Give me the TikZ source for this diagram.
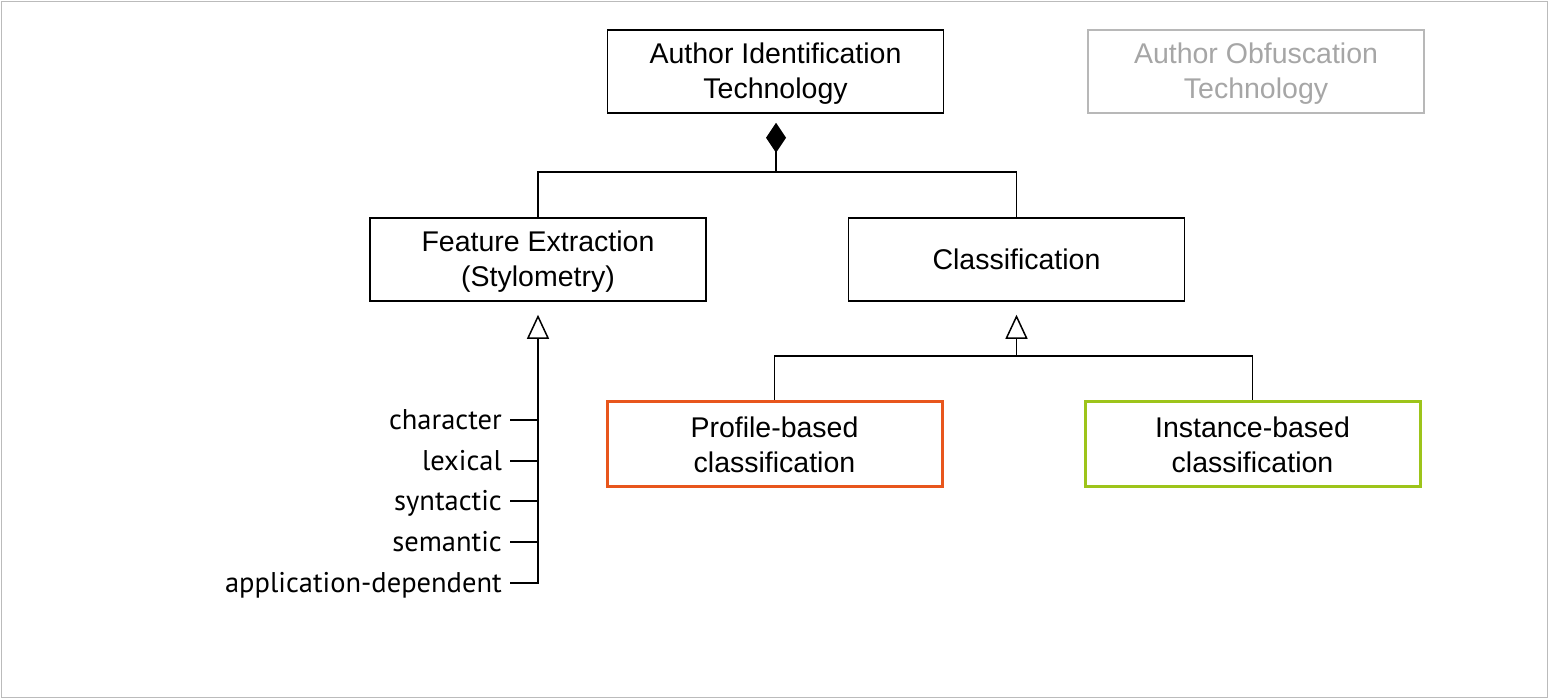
\documentclass[tikz,border=0pt]{standalone}
\usepackage{fontspec}
\setmainfont{Liberation Sans}
\newfontfamily\labelfont{PT Sans}
\usetikzlibrary{arrows.meta}
\definecolor{frameGray}{HTML}{BBBBBB}
\definecolor{ghostGray}{HTML}{A6A6A6}
\definecolor{profileOrange}{HTML}{E8561C}
\definecolor{instanceGreen}{HTML}{9DC41A}
\tikzset{
  cls/.style={draw=black, line width=1.5pt, minimum width=336pt, minimum height=83pt,
    align=center, inner sep=0pt, font=\fontsize{28.5}{35}\selectfont},
  ghost/.style={cls, draw=ghostGray!80, text=ghostGray},
  subcls/.style={cls, line width=3pt, minimum width=335pt, minimum height=85pt},
  feat/.style={anchor=base east, inner sep=0pt, font=\labelfont\fontsize{28.5}{34}\selectfont},
  link/.style={draw=black, line width=1.5pt},
  compo/.style={link, {Diamond[length=30pt,width=20pt,fill=black]}-, shorten <=9pt},
  gener/.style={link, {Triangle[open,length=24pt,width=22pt,fill=white]}-, shorten <=13pt},
}
\begin{document}
\begin{tikzpicture}[x=1pt, y=-1pt]
  % page frame
  \draw[frameGray, line width=1.5pt, fill=white] (1.5,1.5) rectangle (1547.5,697.5);
  \useasboundingbox (0,0) rectangle (1549,699);

  % classes
  \node[cls] (aid) at (775.5,71.5) {\rule{0pt}{24pt}Author Identification\\Technology};
  \node[ghost] (aob) at (1256,71.5) {\rule{0pt}{24pt}Author Obfuscation\\Technology};
  \node[cls] (fex) at (538,259.5) {\rule{0pt}{24pt}Feature Extraction\\(Stylometry)};
  \node[cls] (cla) at (1016.5,259.5) {Classification};
  \node[subcls, draw=profileOrange] (pro) at (774.5,443.5) {\rule{0pt}{24pt}Profile-based\\classification};
  \node[subcls, draw=instanceGreen] (ins) at (1252.5,443.5) {\rule{0pt}{24pt}Instance-based\\classification};

  % composition
  \coordinate (j1) at (776,172);
  \draw[compo] (aid.south -| j1) -- (j1);
  \draw[link] (fex.north) |- (j1) -| (cla.north);

  % generalisation of the classifiers
  \coordinate (j2) at (1016.5,356);
  \draw[gener] (cla.south) -- (j2);
  \draw[link] (pro.north) |- (j2) -| (ins.north);

  % stylometric feature kinds (baseline sits 9pt below its tick)
  \node[feat] (f1) at (502,429) {character};
  \node[feat] (f2) at (502,470) {lexical};
  \node[feat] (f3) at (502,510) {syntactic};
  \node[feat] (f4) at (502,551) {semantic};
  \node[feat] (f5) at (502,592) {application-dependent};
  \draw[gener] (fex.south) -- ([yshift=9pt]f5.base east -| fex.south) -- ([xshift=8pt,yshift=9pt]f5.base east);
  \foreach \f in {f1,f2,f3,f4}
    \draw[link] ([xshift=8pt,yshift=9pt]\f.base east) -- ([yshift=9pt]\f.base east -| fex.south);
\end{tikzpicture}
\end{document}
